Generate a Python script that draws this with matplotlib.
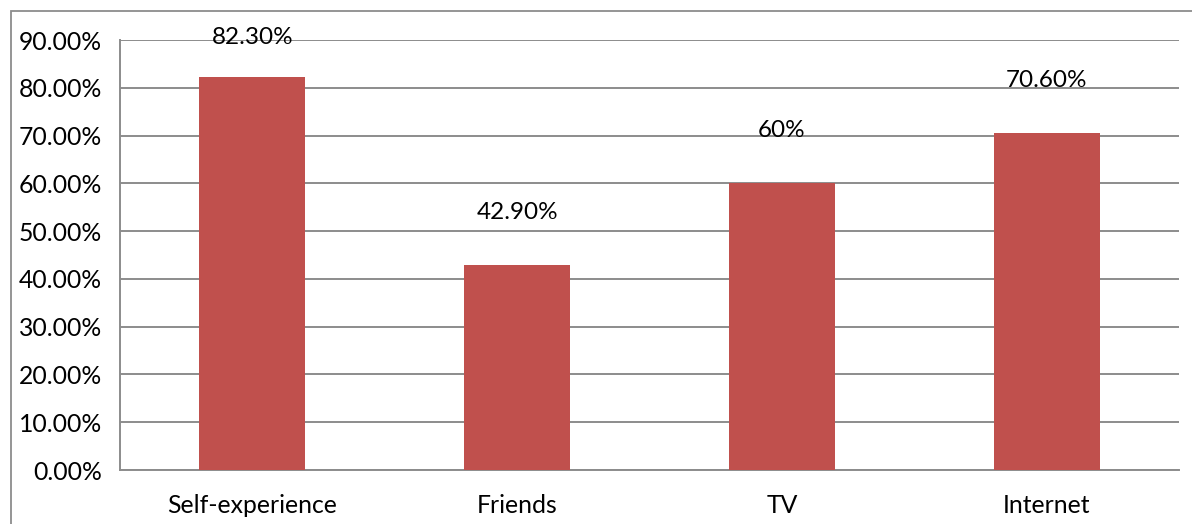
import matplotlib.pyplot as plt
from matplotlib.patches import Rectangle
from matplotlib.ticker import PercentFormatter

# sources and share of respondents (%)
sources = ['Self-experience', 'Friends', 'TV', 'Internet']
shares = [82.3, 42.9, 60.0, 70.6]
share_labels = ['82.30%', '42.90%', '60%', '70.60%']

plt.rcParams['font.family'] = ['Lato', 'DejaVu Sans']

fig = plt.figure(figsize=(11.92, 5.24), dpi=100)
W, H = 1192, 524

# chart frame, running off the right and bottom edges
fig.patches.append(Rectangle((11 / W, -0.1), 1.2, 1 - 11 / H + 0.1,
                             transform=fig.transFigure, fill=False,
                             edgecolor='#8c8c8c', linewidth=1.3))

ax = fig.add_axes([120 / W, 1 - 470 / H, (1179 - 120) / W, (470 - 40) / H])
ax.bar(range(len(sources)), shares, width=0.4, color='#C0504D', zorder=3)

ax.set_xlim(-0.5, len(sources) - 0.5)
ax.set_ylim(0, 90)
ax.set_yticks(range(0, 91, 10))
ax.yaxis.set_major_formatter(PercentFormatter(decimals=2))
ax.set_xticks(range(len(sources)))
ax.set_xticklabels(sources)
ax.tick_params(axis='both', length=0, labelsize=17.8, colors='black')
ax.tick_params(axis='y', pad=13)
ax.tick_params(axis='x', pad=17)

ax.grid(axis='y', color='#8c8c8c', linewidth=1.4, zorder=0)
for side in ['top', 'right']:
    ax.spines[side].set_visible(False)
for side in ['left', 'bottom']:
    ax.spines[side].set_color('#8c8c8c')
    ax.spines[side].set_linewidth(1.4)

# value labels above the bars, kept inside the top of the plot
for i, (v, txt) in enumerate(zip(shares, share_labels)):
    y = min(v + 11, 90.6)
    ax.text(i, y, txt, ha='center', va='center', fontsize=17.5, zorder=4)

fig.savefig('out.png', dpi=100)
